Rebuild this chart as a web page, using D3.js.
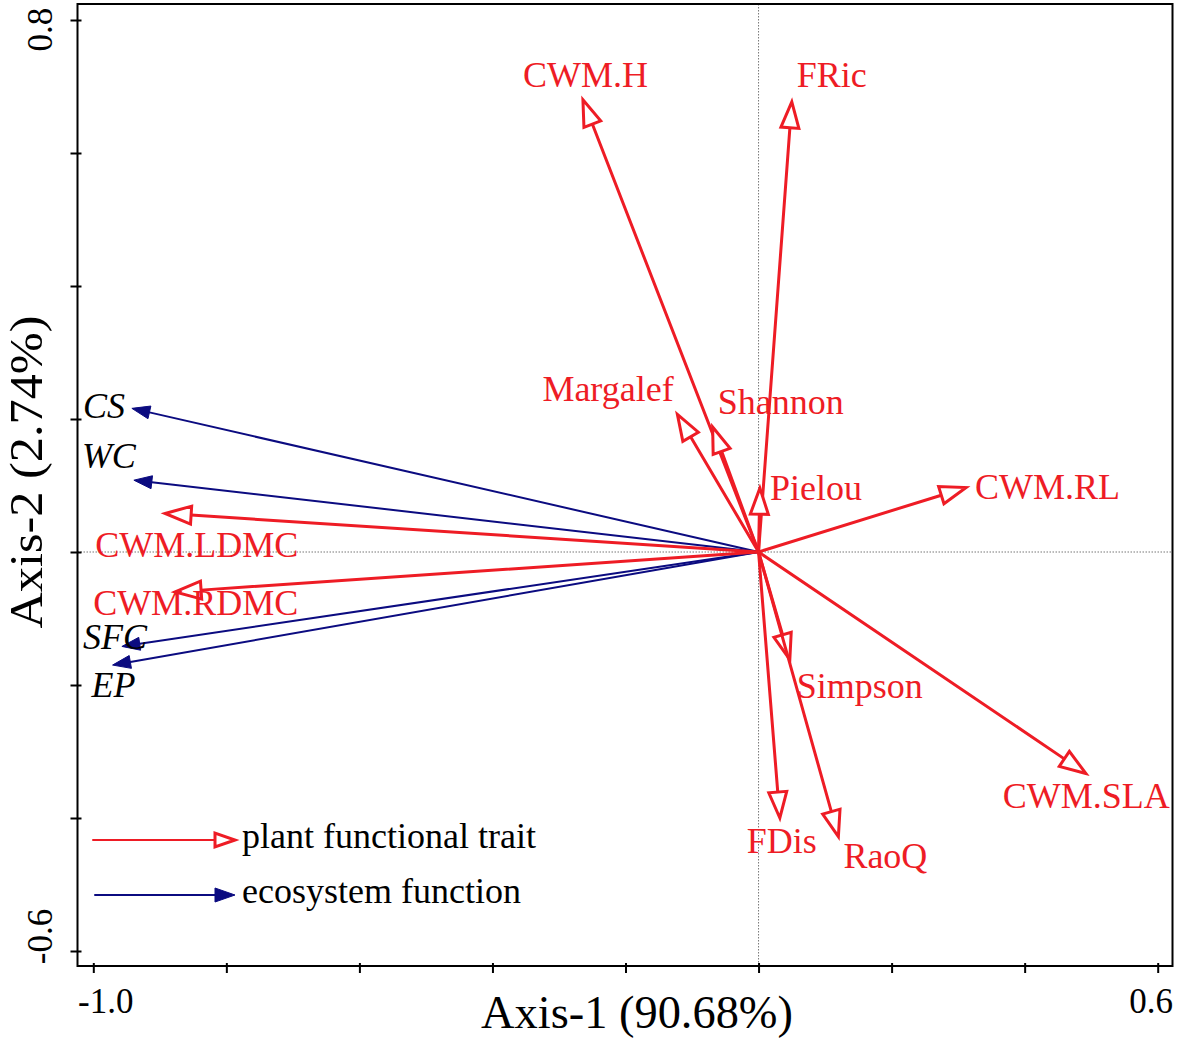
<!DOCTYPE html>
<html>
<head>
<meta charset="utf-8">
<script src="https://cdn.jsdelivr.net/npm/d3@7/dist/d3.min.js"></script>
<style>
  html, body { margin: 0; padding: 0; background: #fff; }
  svg { display: block; }
  text { font-family: "Liberation Serif", "Times New Roman", serif; }
</style>
</head>
<body>
<svg id="chart" width="1181" height="1049"></svg>
<script>
// ---------- data ----------
const traitNames = ["CWM.H", "FRic", "Margalef", "Shannon", "Pielou", "CWM.RL",
                    "CWM.LDMC", "CWM.RDMC", "Simpson", "FDis", "RaoQ", "CWM.SLA"];
const traitAxis1 = [-0.264, 0.050, -0.122, -0.069, 0.002, 0.312,
                    -0.892, -0.877, 0.047, 0.032, 0.120, 0.492];
const traitAxis2 = [0.680, 0.677, 0.207, 0.188, 0.096, 0.097,
                    0.058, -0.060, -0.162, -0.400, -0.428, -0.333];

const functionNames = ["CS", "WC", "SFC", "EP"];
const functionAxis1 = [-0.942, -0.939, -0.957, -0.971];
const functionAxis2 = [0.216, 0.108, -0.142, -0.170];

const xTickValues = [-1.0, -0.8, -0.6, -0.4, -0.2, 0.0, 0.2, 0.4, 0.6];
const yTickValues = [-0.6, -0.4, -0.2, 0.0, 0.2, 0.4, 0.6, 0.8];
const xTickLabels = ["-1.0", "", "", "", "", "", "", "", "0.6"];
const yTickLabels = ["-0.6", "", "", "", "", "", "", "0.8"];

const xTitle = "Axis-1 (90.68%)";
const yTitle = "Axis-2 (2.74%)";
const legendLabels = ["plant functional trait", "ecosystem function"];

// ---------- layout (pixels) ----------
const labelOffsets = {
  "CWM.H": [-60, -13], "FRic": [5, -15], "Margalef": [-135, -13], "Shannon": [5, -13],
  "Pielou": [10, 12], "CWM.RL": [9, 12], "CWM.LDMC": [-70, 44], "CWM.RDMC": [-82, 23],
  "Simpson": [7, 38], "FDis": [-33, 35], "RaoQ": [5, 31], "CWM.SLA": [-83, 35],
  "CS": [-49, 10], "WC": [-52, -12], "SFC": [-39, 3], "EP": [-21, 32]
};
const frame = { left: 77.5, top: 4, right: 1172.5, bottom: 966 };
const RED = "#ee1c25", BLUE = "#0b0b80";
const LABEL_SIZE = 36;

const svg = d3.select("#chart");
const x = d3.scaleLinear().domain([-1.0, 0.6]).range([93.3, 1157.7]);
const y = d3.scaleLinear().domain([-0.6, 0.8]).range([951, 20]);

// reference lines through origin
svg.append("line").attr("x1", x(0)).attr("x2", x(0)).attr("y1", frame.top).attr("y2", frame.bottom)
  .attr("stroke", "#777").attr("stroke-width", 1).attr("stroke-dasharray", "1.5,1.5");
svg.append("line").attr("x1", frame.left).attr("x2", frame.right).attr("y1", y(0)).attr("y2", y(0))
  .attr("stroke", "#777").attr("stroke-width", 1).attr("stroke-dasharray", "1.5,1.5");

// frame
svg.append("rect").attr("x", frame.left).attr("y", frame.top)
  .attr("width", frame.right - frame.left).attr("height", frame.bottom - frame.top)
  .attr("fill", "none").attr("stroke", "#000").attr("stroke-width", 2);

// axes
const xAxis = d3.axisBottom(x).tickValues(xTickValues).tickSize(0).tickFormat("");
const gx = svg.append("g").attr("transform", `translate(0,${frame.bottom})`).call(xAxis);
gx.select(".domain").remove();
gx.selectAll(".tick").append("line").attr("y1", -3).attr("y2", 7).attr("stroke", "#000").attr("stroke-width", 2);
gx.selectAll(".tick").append("text")
  .attr("y", 47).attr("x", (d, i) => i === 0 ? 12 : -7)
  .attr("text-anchor", "middle").attr("fill", "#000").attr("font-size", 35)
  .style("font-family", '"Liberation Serif", serif')
  .text((d, i) => xTickLabels[i]);

const yAxis = d3.axisLeft(y).tickValues(yTickValues).tickSize(0).tickFormat("");
const gy = svg.append("g").attr("transform", `translate(${frame.left},0)`).call(yAxis);
gy.select(".domain").remove();
gy.selectAll(".tick").append("line").attr("x1", -7).attr("x2", 4).attr("stroke", "#000").attr("stroke-width", 2);
gy.selectAll(".tick").append("text")
  .attr("transform", (d, i) => `translate(-26,${i === 0 ? -15 : 9}) rotate(-90)`)
  .attr("text-anchor", "middle").attr("fill", "#000").attr("font-size", 35)
  .style("font-family", '"Liberation Serif", serif')
  .text((d, i) => yTickLabels[i]);

// titles
svg.append("text").attr("x", 637).attr("y", 1028).attr("text-anchor", "middle")
  .attr("font-size", 46).attr("fill", "#000")
  .attr("textLength", 312).attr("lengthAdjust", "spacingAndGlyphs").text(xTitle);
svg.append("text").attr("transform", "translate(42,472) rotate(-90)").attr("text-anchor", "middle")
  .attr("font-size", 47).attr("fill", "#000")
  .attr("textLength", 313).attr("lengthAdjust", "spacingAndGlyphs").text(yTitle);

// arrow drawing helper
function arrow(g, x0, y0, x1, y1, color, lw, headLen, headHalf, filled) {
  const dx = x1 - x0, dy = y1 - y0, len = Math.hypot(dx, dy);
  const ux = dx / len, uy = dy / len, px = -uy, py = ux;
  const bx = x1 - ux * headLen, by = y1 - uy * headLen;
  g.append("line").attr("x1", x0).attr("y1", y0).attr("x2", bx).attr("y2", by)
    .attr("stroke", color).attr("stroke-width", lw).attr("stroke-linecap", "round");
  g.append("path")
    .attr("d", `M${x1},${y1}L${bx + px * headHalf},${by + py * headHalf}L${bx - px * headHalf},${by - py * headHalf}Z`)
    .attr("fill", filled ? color : "#fff").attr("stroke", color)
    .attr("stroke-width", filled ? 1 : 3).attr("stroke-linejoin", "miter");
}

const ox = x(0), oy = y(0);
const gArrows = svg.append("g");

// ecosystem functions (blue, filled heads)
functionNames.forEach((n, i) => {
  arrow(gArrows, ox, oy, x(functionAxis1[i]), y(functionAxis2[i]), BLUE, 2, 18, 6.5, true);
});
// traits (red, open heads)
traitNames.forEach((n, i) => {
  arrow(gArrows, ox, oy, x(traitAxis1[i]), y(traitAxis2[i]), RED, 3, 26, 9, false);
});

// labels
const gLab = svg.append("g");
functionNames.forEach((n, i) => {
  const o = labelOffsets[n];
  gLab.append("text").attr("x", x(functionAxis1[i]) + o[0]).attr("y", y(functionAxis2[i]) + o[1])
    .attr("font-size", LABEL_SIZE).attr("font-style", "italic").attr("fill", "#000").text(n);
});
traitNames.forEach((n, i) => {
  const o = labelOffsets[n];
  gLab.append("text").attr("x", x(traitAxis1[i]) + o[0]).attr("y", y(traitAxis2[i]) + o[1])
    .attr("font-size", LABEL_SIZE).attr("fill", RED).text(n);
});

// legend
const gLeg = svg.append("g");
arrow(gLeg, 93, 840, 235, 840, RED, 2, 20, 7, false);
arrow(gLeg, 95, 895, 235, 895, BLUE, 2, 20, 7, true);
gLeg.append("text").attr("x", 242).attr("y", 848).attr("font-size", LABEL_SIZE).attr("fill", "#000").text(legendLabels[0]);
gLeg.append("text").attr("x", 242).attr("y", 903).attr("font-size", LABEL_SIZE).attr("fill", "#000").text(legendLabels[1]);
</script>
</body>
</html>
